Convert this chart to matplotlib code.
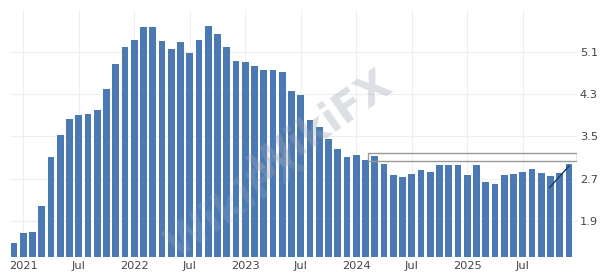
import matplotlib
matplotlib.use("Agg")
import matplotlib.pyplot as plt
from matplotlib.patches import Rectangle
import numpy as np

# Monthly values, Dec 2020 .. Dec 2025
values = [1.48, 1.67, 1.69, 2.18, 3.11, 3.52, 3.84, 3.90, 3.93, 4.00, 4.41, 4.88,
          5.19, 5.34, 5.58, 5.58, 5.32, 5.16, 5.29, 5.09, 5.33, 5.59, 5.44, 5.19,
          4.94, 4.92, 4.83, 4.76, 4.76, 4.72, 4.37, 4.29, 3.82, 3.67, 3.46, 3.27,
          3.10, 3.14, 3.05, 3.12, 2.98, 2.76, 2.73, 2.79, 2.86, 2.82, 2.96, 2.96,
          2.96, 2.76, 2.95, 2.64, 2.60, 2.76, 2.79, 2.83, 2.88, 2.81, 2.74, 2.81, 2.98]
x_tick_pos = [1, 7, 13, 19, 25, 31, 37, 43, 49, 55]
x_tick_labels = ["2021", "Jul", "2022", "Jul", "2023", "Jul", "2024", "Jul", "2025", "Jul"]
y_ticks = [1.9, 2.7, 3.5, 4.3, 5.1]

fig = plt.figure(figsize=(6.01, 2.79), dpi=100)
ax = fig.add_axes([0.0166, 0.0789, 0.9434, 0.885])

x = np.arange(len(values))
ax.bar(x, values, width=0.72, color="#4a79b4", zorder=2)

ax.set_xlim(-0.43, 60.86)
ax.set_ylim(1.21, 5.90)

ax.set_xticks(x_tick_pos)
ax.set_xticklabels(x_tick_labels)
ax.set_yticks(y_ticks)
ax.set_yticklabels([f"{v:.1f}" for v in y_ticks])
ax.yaxis.tick_right()
ax.tick_params(axis="both", length=0, labelsize=8.2, colors="#444444")
ax.tick_params(axis="y", pad=2)
ax.tick_params(axis="x", pad=3)

ax.grid(True, color="#eeeeee", linewidth=0.8, zorder=0)
ax.set_axisbelow(True)
for s in ax.spines.values():
    s.set_visible(False)

# tooltip-like outline box and cursor line
ax.add_patch(Rectangle((0.631, 0.388), 0.369, 0.033, transform=ax.transAxes,
                       fill=False, edgecolor="#999999", linewidth=1.0, zorder=3))
ax.plot([0.9516, 0.9858], [0.281, 0.368], transform=ax.transAxes,
        color="#1f3a60", linewidth=1.0, zorder=4)

# watermark
ax.text(0.55, 0.53, "WikiFX", transform=ax.transAxes, fontsize=30, fontweight="bold",
        color="#9aa4b0", alpha=0.35, rotation=35, ha="center", va="center", zorder=5)
ax.text(0.40, 0.22, "WikiFX", transform=ax.transAxes, fontsize=30, fontweight="bold",
        color="#b8bec6", alpha=0.18, rotation=35, ha="center", va="center", zorder=5)

fig.savefig("out.png", dpi=100)
